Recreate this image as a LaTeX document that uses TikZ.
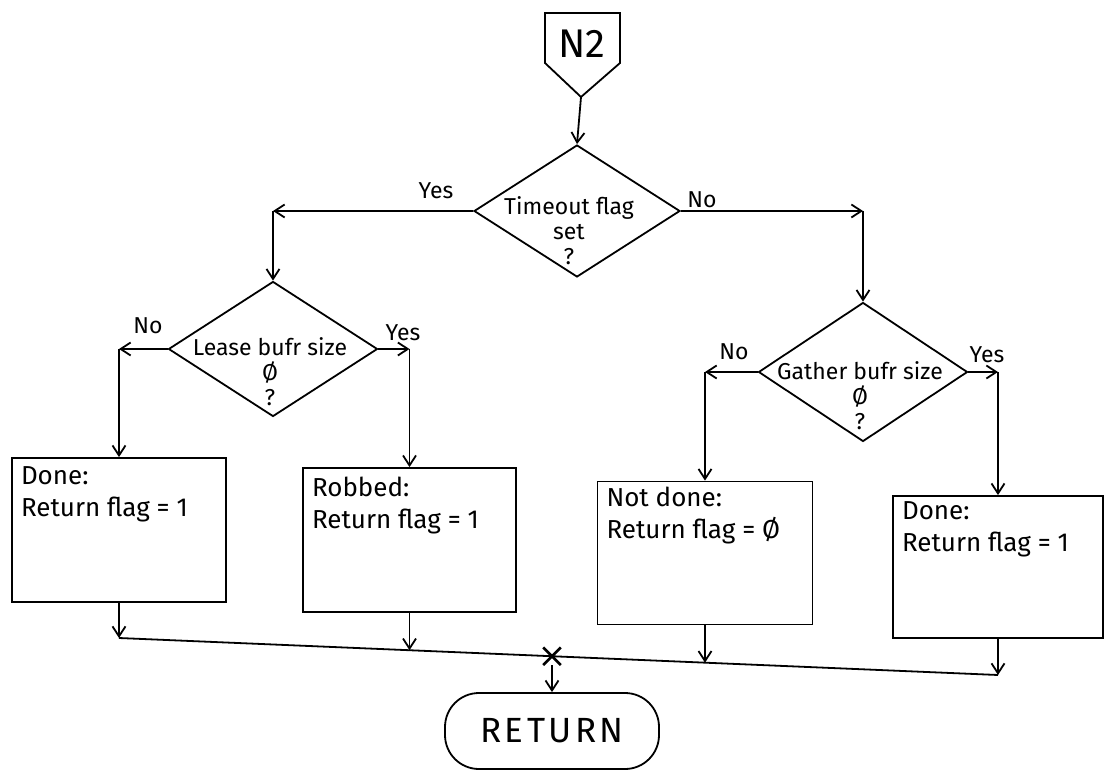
\documentclass[tikz,border=0pt]{standalone}
\usepackage{fontspec}
\setmainfont{Fira Sans}
\usetikzlibrary{arrows.meta,shapes.geometric,shapes.misc,calc}
\begin{document}
\begin{tikzpicture}[x=1pt,y=-1pt,
  line width=1.8pt,
  flow/.style={-{Straight Barb[length=10pt,width=13pt]}},
  decision/.style={draw, diamond, inner sep=0pt},
  procbox/.style={draw, rectangle, inner sep=0pt},
  dtext/.style={align=center, inner sep=0pt, font=\fontsize{23}{25}\selectfont},
  btext/.style={align=left, anchor=north west, inner sep=0pt, font=\fontsize{26}{32}\selectfont},
  answer/.style={inner sep=0pt, font=\fontsize{23}{25}\selectfont},
]
\useasboundingbox (0,0) rectangle (1107,775);

% off-page connector N2
\coordinate (tip) at (581,97);
\draw (545,13) -- (620,13) -- (620,63) -- (tip) -- (545,63) -- cycle;
\node[inner sep=0pt, font=\fontsize{40}{40}\selectfont] (n2) at (582,44) {N2};

% decisions
\node[decision, minimum width=206pt, minimum height=132pt] (d1) at (577,211) {};
\node[dtext] (d1txt) at ($(d1)+(-8,20)$) {Timeout flag\\set\\?};
\node[decision, minimum width=209pt, minimum height=135pt] (d2) at (273,349) {};
\node[dtext] (d2txt) at ($(d2)+(-3,23)$) {Lease bufr size\\Ø\\?};
\node[decision, minimum width=209pt, minimum height=139pt] (d3) at (863,372) {};
\node[dtext] (d3txt) at ($(d3)+(-3,24)$) {Gather bufr size\\Ø\\?};

% branch labels
\node[answer] (y1) at (436,191) {Yes};
\node[answer] (n1) at (702,200) {No};
\node[answer] (n2l) at (148,326) {No};
\node[answer] (y2) at (403,333) {Yes};
\node[answer] (n3) at (734,352) {No};
\node[answer] (y3) at (987,355) {Yes};

% result boxes
\node[procbox, minimum width=214pt, minimum height=144pt] (b1) at (119,530) {};
\node[btext] (b1txt) at ($(b1.north west)+(9,9)$) {Done:\\Return flag = 1};
\node[procbox, minimum width=213pt, minimum height=144pt] (b2) at (409.5,540) {};
\node[btext] (b2txt) at ($(b2.north west)+(9,9)$) {Robbed:\\Return flag = 1};
\node[procbox, minimum width=215pt, minimum height=143pt] (b3) at (705,553) {};
\node[btext] (b3txt) at ($(b3.north west)+(9,5)$) {Not done:\\Return flag = Ø};
\node[procbox, minimum width=210pt, minimum height=142pt] (b4) at (998,567) {};
\node[btext] (b4txt) at ($(b4.north west)+(9,6)$) {Done:\\Return flag = 1};

% end terminal
\node[draw, rounded corners=34pt, minimum width=214pt, minimum height=76pt,
      font=\fontsize{35}{35}\selectfont\addfontfeature{LetterSpace=10}] (ret) at (552,731) {RETURN};

% flow lines
\draw[flow] (tip) -- (d1.north);

\coordinate (c1) at (d2.north |- d1.west);
\draw[flow] (d1.west) -- (c1);
\draw[flow] (c1) -- (d2.north);
\coordinate (c2) at (d3.north |- d1.east);
\draw[flow] (d1.east) -- (c2);
\draw[flow] (c2) -- (d3.north);

\coordinate (c3) at (b1.north |- d2.west);
\draw[flow] (d2.west) -- (c3);
\draw[flow] (c3) -- (b1.north);
\coordinate (c4) at (b2.north |- d2.east);
\draw[flow] (d2.east) -- (c4);
\draw[flow] (c4) -- (b2.north);

\coordinate (c5) at (b3.north |- d3.west);
\draw[flow] (d3.west) -- (c5);
\draw[flow] (c5) -- (b3.north);
\coordinate (c6) at (b4.north |- d3.east);
\draw[flow] (d3.east) -- (c6);
\draw[flow] (c6) -- (b4.north);

% collecting line
\coordinate (busL) at (119,638);
\coordinate (busR) at (998,675);
\coordinate (p2) at (409.5,650.2);
\coordinate (p3) at (705,662.7);
\draw (busL) -- (busR);
\draw[flow] (b1.south) -- (busL);
\draw[flow] (b2.south) -- (p2);
\draw[flow] (b3.south) -- (p3);
\draw[flow] (b4.south) -- (busR);
\node[draw, cross out, minimum size=15pt, inner sep=0pt, line width=2.6pt] (jx) at (552,656.2) {};
\draw[flow] (jx) -- (ret.north);
\end{tikzpicture}
\end{document}
